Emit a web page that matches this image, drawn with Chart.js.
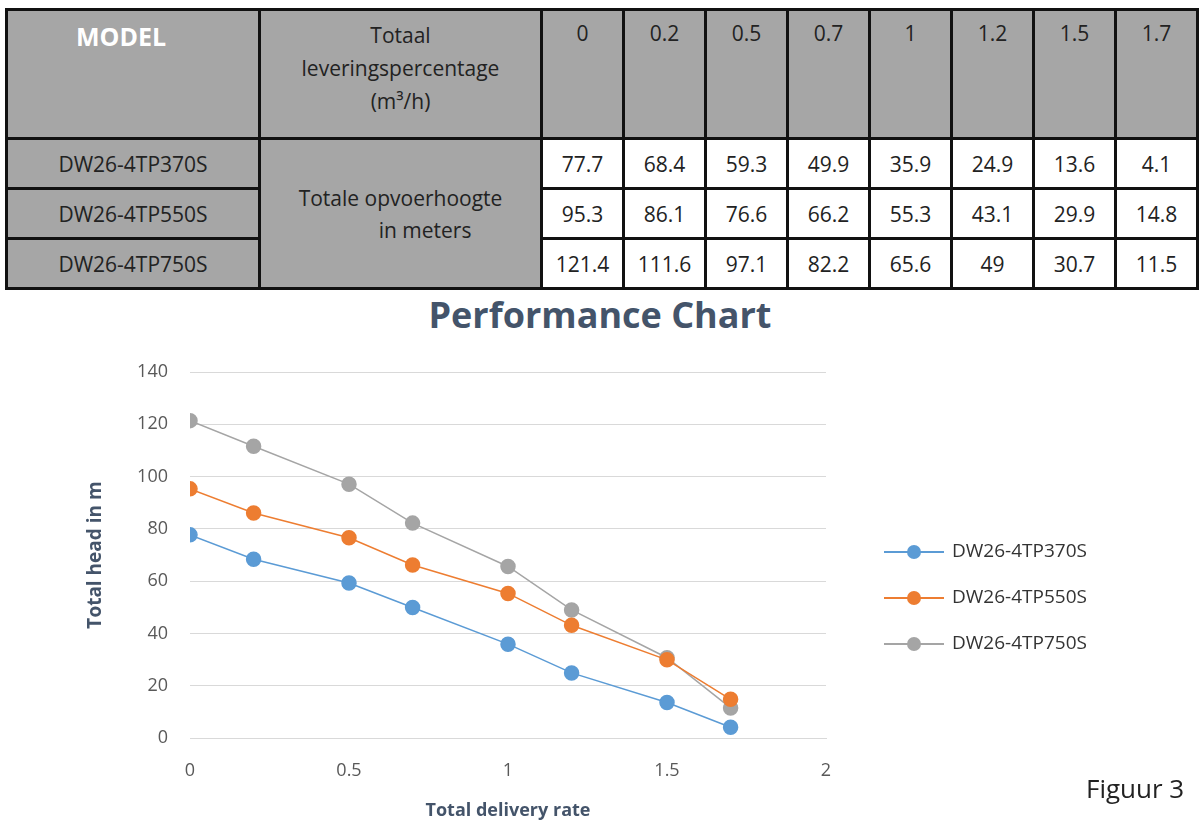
<!DOCTYPE html>
<html><head><meta charset="utf-8">
<script src="https://cdn.jsdelivr.net/npm/chart.js@4/dist/chart.umd.min.js"></script>
<style>
body{margin:0;width:1200px;height:826px;background:#fff;position:relative;font-family:"Open Sans",Lato,sans-serif;overflow:hidden}
table{position:absolute;left:5px;top:8px;width:1190px;border-collapse:collapse;table-layout:fixed;font-size:21px;color:#222}
td{border:3px solid #111;text-align:center;padding:0;overflow:hidden;white-space:nowrap}
.g{background:#a6a6a6}
.hd td{height:118px;vertical-align:top;padding-top:8px}
.r td{height:47px;line-height:20px}
#title{position:absolute;left:0;width:1200px;top:290px;text-align:center;font:bold 36px "Open Sans",sans-serif;color:#44546a}
#fig{position:absolute;left:1086px;top:770px;font-size:26px;color:#222}
#wrap{position:absolute;left:0;top:290px;width:1200px;height:536px}
</style></head><body>
<table id="tbl"></table>
<div id="title">Performance Chart</div>
<div id="wrap"><canvas id="c"></canvas></div>
<div id="fig">Figuur 3</div>
<script>
const rates = [0, 0.2, 0.5, 0.7, 1, 1.2, 1.5, 1.7];
const models = ['DW26-4TP370S', 'DW26-4TP550S', 'DW26-4TP750S'];
const head370 = [77.7, 68.4, 59.3, 49.9, 35.9, 24.9, 13.6, 4.1];
const head550 = [95.3, 86.1, 76.6, 66.2, 55.3, 43.1, 29.9, 14.8];
const head750 = [121.4, 111.6, 97.1, 82.2, 65.6, 49, 30.7, 11.5];
const colors = ['#5b9bd5', '#ed7d31', '#a5a5a5'];
const heads = [head370, head550, head750];

// table
let html = '<colgroup><col style="width:253px"><col style="width:282px">' + rates.map(() => '<col style="width:82px">').join('') + '</colgroup>';
html += '<tr class="hd g"><td style="color:#fff;font-weight:bold;font-size:25px;text-align:left;padding-left:68px">MODEL</td>' +
  '<td style="line-height:33px">Totaal<br>leveringspercentage<br>(m³/h)</td>';
rates.forEach(r => html += `<td>${r}</td>`);
html += '</tr>';
models.forEach((m, i) => {
  html += `<tr class="r"><td class="g">${m}</td>`;
  if (i === 0) html += '<td class="g" rowspan="3" style="line-height:32px">Totale opvoerhoogte<br>&nbsp;&nbsp;&nbsp;&nbsp;&nbsp;&nbsp;&nbsp;&nbsp;&nbsp;in meters</td>';
  heads[i].forEach(v => html += `<td>${v}</td>`);
  html += '</tr>';
});
document.getElementById('tbl').innerHTML = html;

Chart.defaults.font.family = '"Open Sans", sans-serif';

const legendPlugin = {
  id: 'sideLegend',
  afterDraw(chart) {
    const ctx = chart.ctx;
    chart.data.datasets.forEach((ds, i) => {
      const y = 262 + i * 46;
      ctx.strokeStyle = ds.borderColor; ctx.lineWidth = 2;
      ctx.beginPath(); ctx.moveTo(884, y); ctx.lineTo(944, y); ctx.stroke();
      ctx.fillStyle = ds.borderColor;
      ctx.beginPath(); ctx.arc(914, y, 7, 0, Math.PI * 2); ctx.fill();
      ctx.fillStyle = '#333'; ctx.font = '19px "Open Sans", sans-serif';
      ctx.textBaseline = 'middle'; ctx.fillText(ds.label, 952, y);
    });
  }
};

new Chart(document.getElementById('c'), {
  type: 'line',
  data: {
    datasets: models.map((m, i) => ({
      label: m,
      data: rates.map((r, j) => ({x: r, y: heads[i][j]})),
      borderColor: colors[i], backgroundColor: colors[i],
      borderWidth: 1.5, pointRadius: 7, pointHoverRadius: 7, tension: 0
    }))
  },
  options: {
    responsive: true, maintainAspectRatio: false, animation: false,
    layout: {padding: {left: 80, right: 374, top: 82, bottom: 0}},
    plugins: {legend: {display: false}, tooltip: {enabled: false}},
    scales: {
      x: {
        type: 'linear', min: 0, max: 2,
        ticks: {stepSize: 0.5, color: '#595959', font: {size: 18}, padding: 14, callback: v => String(v)},
        grid: {display: false},
        border: {color: '#d9d9d9'},
        title: {display: true, text: 'Total delivery rate', color: '#44546a', font: {size: 18, weight: 'bold'}, padding: {top: 6}},
        afterFit(s) { s.height = 88; }
      },
      y: {
        min: 0, max: 140,
        ticks: {stepSize: 20, color: '#595959', font: {size: 18}, padding: 22},
        grid: {color: '#d9d9d9', drawTicks: false},
        border: {display: false},
        title: {display: true, text: 'Total head in m', color: '#44546a', font: {size: 19, weight: 'bold'}},
        afterFit(s) { s.width = 110; }
      }
    }
  },
  plugins: [legendPlugin]
});
</script>
</body></html>
